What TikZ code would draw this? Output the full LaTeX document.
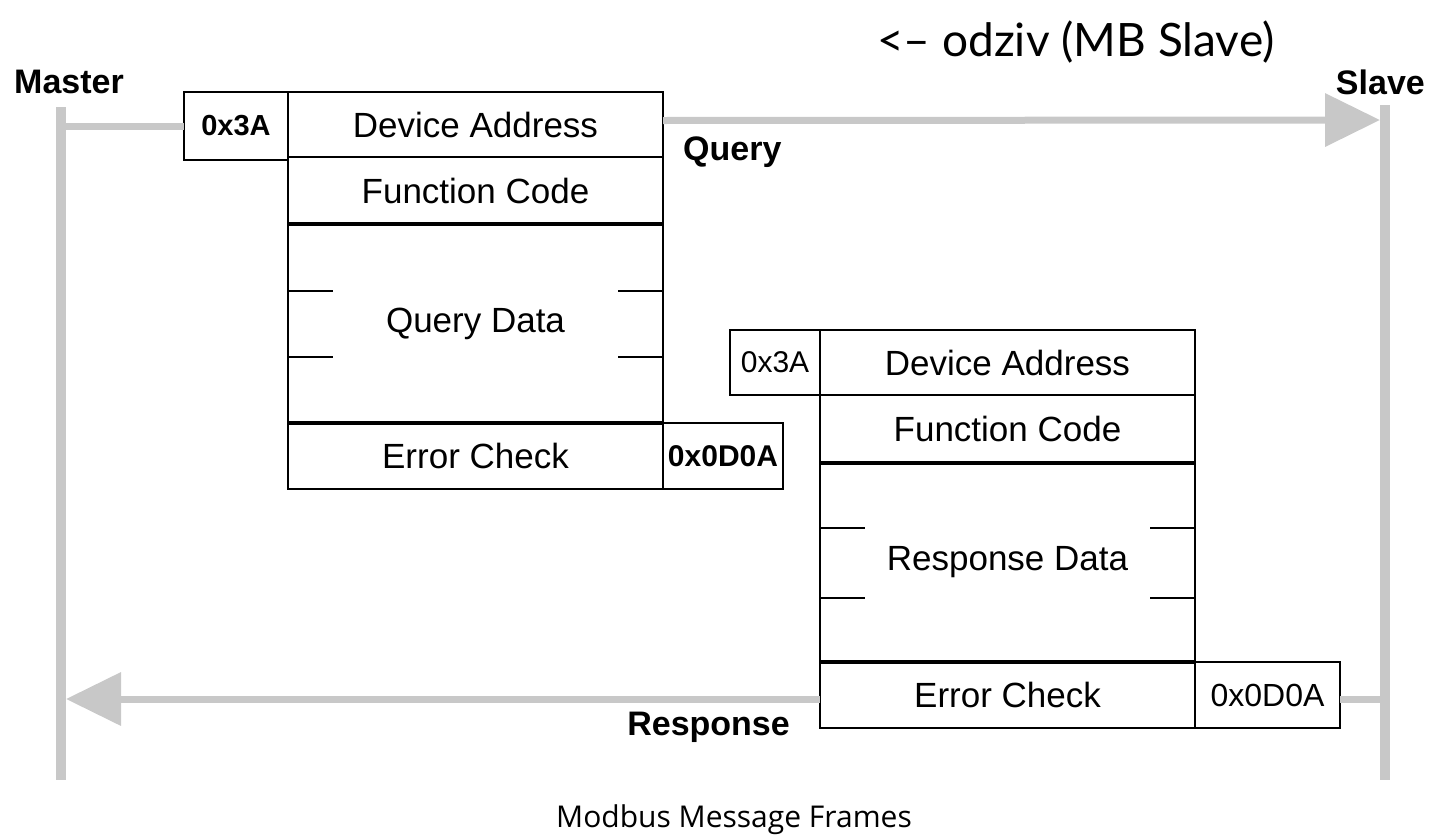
\documentclass[tikz,border=0pt]{standalone}
\usepackage{fontspec}
\setmainfont{Liberation Sans}
\newfontfamily\gillfont{Lato}
\newfontfamily\capfont{Open Sans}
\usetikzlibrary{arrows.meta}
\definecolor{lgray}{RGB}{200,200,200}
\begin{document}
\begin{tikzpicture}[x=1pt,y=-1pt,
  field/.style={draw=black,fill=white,line width=2pt,rectangle,inner sep=0pt,outer sep=0pt,anchor=north west,font=\fontsize{35}{37}\selectfont},
  hexbox/.style={field,font=\bfseries\fontsize{29}{31}\selectfont},
  lifeline/.style={draw=lgray,line width=10pt},
  msg/.style={draw=lgray,line width=7pt},
  head/.style={-{Triangle[length=55pt,width=52pt]}},
  lbl/.style={inner sep=0pt,font=\bfseries\fontsize{34}{36}\selectfont},
  sep/.style={line width=3.5pt},
  tick/.style={line width=2pt}
]
\useasboundingbox (0,0) rectangle (1429,838);
% lifelines
\coordinate (mtop) at (61,107);
\coordinate (mbot) at (61,780);
\coordinate (stop) at (1385,105);
\coordinate (sbot) at (1385,780);
\coordinate (qend) at (1380,120);
\coordinate (rend) at (66,699);
\coordinate (rright) at (1385,699);
\draw[lifeline] (mtop) -- (mbot);
\draw[lifeline] (stop) -- (sbot);
% query frame
\node[hexbox,minimum width=104pt,minimum height=68pt] (qaddr) at (184,92) {0x3A};
\node[field,minimum width=375pt,minimum height=65pt] (qda) at (288,92) {Device Address};
\node[field,minimum width=375pt,minimum height=67pt] (qfc) at (288,157) {Function Code};
\node[field,minimum width=375pt,minimum height=199pt] (qdata) at (288,224) {Query Data};
\node[field,minimum width=375pt,minimum height=66pt] (qec) at (288,423) {Error Check};
\node[hexbox,font=\bfseries\fontsize{30}{32}\selectfont,minimum width=120pt,minimum height=66pt] (qcrc) at (663,423) {0x0D0A};
\draw[sep] (qfc.south west) -- (qfc.south east);
\draw[sep] (qec.north west) -- (qec.north east);
\draw[tick] ([yshift=33pt]qdata.west) -- ++(45,0);
\draw[tick] ([yshift=-33pt]qdata.west) -- ++(45,0);
\draw[tick] ([yshift=33pt]qdata.east) -- ++(-45,0);
\draw[tick] ([yshift=-33pt]qdata.east) -- ++(-45,0);
% response frame
\node[field,font=\fontsize{30}{32}\selectfont,minimum width=90pt,minimum height=65pt] (raddr) at (730,330) {0x3A};
\node[field,minimum width=375pt,minimum height=65pt] (rda) at (820,330) {Device Address};
\node[field,minimum width=375pt,minimum height=68pt] (rfc) at (820,395) {Function Code};
\node[field,minimum width=375pt,minimum height=199pt] (rdata) at (820,463) {Response Data};
\node[field,minimum width=375pt,minimum height=66pt] (rec) at (820,662) {Error Check};
\node[field,font=\fontsize{32}{34}\selectfont,minimum width=145pt,minimum height=66pt] (rcrc) at (1195,662) {0x0D0A};
\draw[sep] (rfc.south west) -- (rfc.south east);
\draw[sep] (rec.north west) -- (rec.north east);
\draw[tick] ([yshift=35pt]rdata.west) -- ++(45,0);
\draw[tick] ([yshift=-35pt]rdata.west) -- ++(45,0);
\draw[tick] ([yshift=35pt]rdata.east) -- ++(-45,0);
\draw[tick] ([yshift=-35pt]rdata.east) -- ++(-45,0);
% messages
\draw[msg] (mtop |- qaddr.west) -- (qaddr.west);
\draw[msg,head] ([yshift=4pt]qda.east) -- (qend);
\draw[msg,head] ([yshift=-4pt]rec.west) -- (rend);
\draw[msg] ([yshift=-4pt]rcrc.east) -- (rright);
% labels
\node[lbl,anchor=west] (master) at (14,82) {Master};
\node[lbl,anchor=east] (slave) at (1425,82) {Slave};
\node[lbl,anchor=west] (query) at (683,152) {Query};
\node[lbl,anchor=east] (resp) at (790,727) {Response};
\node[inner sep=0pt,anchor=west,font=\gillfont\fontsize{46}{48}\selectfont] (odziv) at (877,42) {<– odziv (MB Slave)};
\node[inner sep=0pt,font=\capfont\fontsize{30}{32}\selectfont] (caption) at (734,820) {Modbus Message Frames};
\end{tikzpicture}
\end{document}
